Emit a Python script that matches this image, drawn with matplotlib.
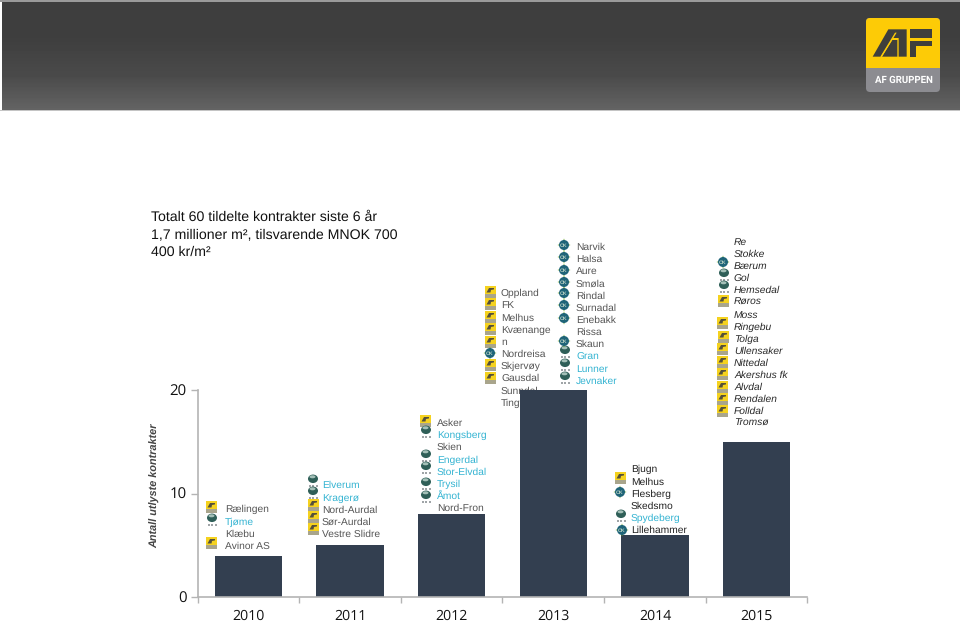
import numpy as np
import matplotlib
matplotlib.use("Agg")
import matplotlib.pyplot as plt
from matplotlib.patches import Circle, Ellipse, FancyBboxPatch, Polygon, Rectangle

plt.rcParams["font.family"] = ["Liberation Sans", "DejaVu Sans"]
plt.rcParams["text.hinting"] = "no_hinting"

years = ["2010", "2011", "2012", "2013", "2014", "2015"]
contracts = [4, 5, 8, 20, 6, 15]
y_ticks = [0, 10, 20]

title_lines = [
    "Totalt 60 tildelte kontrakter siste 6 år",
    "1,7 millioner m², tilsvarende MNOK 700",
    "400 kr/m²",
]
y_label = "Antall utlyste kontrakter"

names_2010 = ["Rælingen", "Tjøme", "Klæbu", "Avinor AS"]
names_2011 = ["Elverum", "Kragerø", "Nord-Aurdal", "Sør-Aurdal", "Vestre Slidre"]
names_2012 = ["Asker", "Kongsberg", "Skien", "Engerdal", "Stor-Elvdal", "Trysil", "Åmot", "Nord-Fron"]
names_2013a = ["Oppland", "FK", "Melhus", "Kvænange", "n", "Nordreisa", "Skjervøy", "Gausdal", "Sunndal", "Tingvoll"]
names_2013b = ["Narvik", "Halsa", "Aure", "Smøla", "Rindal", "Surnadal", "Enebakk", "Rissa", "Skaun", "Gran", "Lunner", "Jevnaker"]
names_2014 = ["Bjugn", "Melhus", "Flesberg", "Skedsmo", "Spydeberg", "Lillehammer"]
names_2015 = ["Re", "Stokke", "Bærum", "Gol", "Hemsedal", "Røros", "Moss", "Ringebu", "Tolga", "Ullensaker",
              "Nittedal", "Akershus fk", "Alvdal", "Rendalen", "Folldal", "Tromsø"]

blue_names = {"Tjøme", "Elverum", "Kragerø", "Kongsberg", "Engerdal", "Stor-Elvdal", "Trysil", "Åmot",
              "Gran", "Lunner", "Jevnaker", "Spydeberg"}

BAR = "#333f50"
BLUE = "#35b4d2"
AXIS = "#b4b4b4"
W, H = 960, 621

fig = plt.figure(figsize=(W / 100, H / 100), dpi=100, facecolor="white")


def px_axes(z):
    # full-figure axes in image pixels, y going down
    a = fig.add_axes([0, 0, 1, 1], zorder=z)
    a.set_xlim(0, W)
    a.set_ylim(H, 0)
    a.axis("off")
    return a


back = px_axes(0)
top = px_axes(2)

# banner
grad = np.r_[np.full(35, 0.245), np.linspace(0.245, 0.29, 38), np.linspace(0.29, 0.39, 35)].reshape(-1, 1)
back.imshow(grad, cmap="gray", vmin=0, vmax=1, extent=(2, W, 110, 2), aspect="auto", zorder=1)
back.set_xlim(0, W)
back.set_ylim(H, 0)
back.add_patch(Rectangle((0, 0), W, 2, color="#9a9a9a", lw=0, zorder=2))
back.add_patch(Rectangle((0, 110), W, 1.2, color="#c4c4c4", lw=0, zorder=2))

# AF logo
back.add_patch(FancyBboxPatch((866, 18), 74, 74, boxstyle="round,pad=0,rounding_size=4", fc="#8c8c91", ec="none", zorder=3))
yellow = FancyBboxPatch((866, 18), 74, 74, boxstyle="round,pad=0,rounding_size=4", fc="#fdcb06", ec="none", zorder=4)
back.add_patch(yellow)
yellow.set_clip_path(Rectangle((860, 10), 90, 58, transform=back.transData))


def logo_poly(pts, color):
    xy = [(860 + x / 3, 10 + y / 3) for x, y in pts]
    back.add_patch(Polygon(xy, closed=True, fc=color, ec="none", zorder=6))


logo_poly([(38, 140), (85, 58), (140, 58), (140, 140), (116, 140), (116, 84), (98, 84), (62, 140)], "#3f3f3c")
logo_poly([(66, 140), (97, 90), (112, 90), (112, 140)], "#3f3f3c")
logo_poly([(150, 58), (215, 58), (215, 84), (150, 84)], "#3f3f3c")
logo_poly([(150, 92), (215, 92), (215, 108), (168, 108), (168, 140), (150, 140)], "#3f3f3c")
logo_poly([(61, 140), (66, 140), (110, 68), (105, 68)], "#fdcb06")
back.text(903.5, 80, "AF GRUPPEN", color="white", fontsize=6.9, fontweight="bold", ha="center", va="center",
          family="Roboto", zorder=7)

# heading
for line, py in zip(title_lines, [220.5, 238, 255.5]):
    back.text(151, py, line, fontsize=10.2, color="#111111", va="baseline", ha="left")

back.text(155, 485.5, y_label, rotation=90, fontsize=7.8, fontweight="bold", fontstyle="italic",
          color="#444444", ha="center", va="center")


def draw_list(names, x, ys, color="#555555", italic=False):
    for name, py in zip(names, ys):
        c = BLUE if name in blue_names else color
        back.text(x, py + 3.8, name, fontsize=7.4, color=c, va="baseline", ha="left",
                  fontstyle="italic" if italic else "normal")


draw_list(names_2010, 225, [508, 521, 533, 545])
draw_list(names_2011, 322, [484.5, 497, 509, 521, 533])
draw_list(names_2012, 437, [422, 434.5, 446.5, 459, 471, 483, 495, 507])
draw_list(names_2013a, 501, [292, 304, 317, 329, 341, 353, 365, 377, 390, 402])
draw_list(names_2013b, 576, [246, 258, 270.5, 283, 295, 307, 319, 331, 343, 356, 368, 380])
draw_list(names_2014, 631, [468.5, 481, 493, 505, 517, 529.5], color="#222222")
draw_list(names_2015, 734, [241, 253, 265, 277, 289, 301, 314, 326, 338, 350, 362, 374, 386, 398, 410, 422],
          color="#2a2a2a", italic=True)


def icon_af(x, y):
    top.add_patch(Rectangle((x - 5.5, y - 6), 11, 8, fc="#f5d21f", ec="none"))
    top.add_patch(Rectangle((x - 5.5, y + 2), 11, 4, fc="#a9a58c", ec="none"))
    top.add_patch(Polygon([(x - 3.5, y + 0.5), (x - 1, y - 4), (x + 4, y - 4), (x + 4, y - 2.6), (x + 1, y - 2),
                           (x + 0.5, y + 0.5), (x - 1.5, y + 0.5)], fc="#55503a", ec="none"))


def icon_nsk(x, y):
    top.add_patch(Ellipse((x, y - 2.2), 10, 8.5, fc="#2f5f58", ec="none"))
    top.add_patch(Ellipse((x - 0.5, y - 4.2), 6, 3, fc="#a4c0b8", ec="none"))
    for dx in (-3.5, 0, 3.5):
        top.add_patch(Rectangle((x + dx - 1, y + 3.6), 2, 2, fc="#a0a5a8", ec="none"))


def icon_ck(x, y):
    top.add_patch(Polygon([(x, y - 6.5), (x + 2.5, y), (x, y + 6.5), (x - 2.5, y)], fc="#6aa52f", ec="none"))
    top.add_patch(Polygon([(x - 6.5, y), (x, y - 2.5), (x + 6.5, y), (x, y + 2.5)], fc="#6aa52f", ec="none"))
    top.add_patch(Circle((x, y), 5, fc="#1f6478", ec="none"))
    top.text(x, y + 0.2, "CK", fontsize=3.8, fontweight="bold", color="#b9d2c4", ha="center", va="center")


# logos beside the names
af_marks = [(211, 507), (211, 543), (313, 505), (313, 517), (313, 529), (425, 421),
            (490, 292), (490, 304), (490, 317), (490, 329), (490, 342), (490, 365), (490, 378),
            (620, 478), (723, 301), (722, 323), (723, 337), (722, 349), (722, 362), (722, 374),
            (722, 387), (722, 399), (722, 411)]
nsk_marks = [(212, 520), (313, 481), (313, 493), (426, 432), (426, 456), (426, 468), (426, 484), (426, 497),
             (565, 352), (565, 365), (565, 378), (621, 516), (724, 275), (724, 287)]
ck_marks = [(490, 353), (564, 245), (564, 257), (564, 270), (564, 282), (564, 293), (564, 305), (564, 318),
            (564, 341), (620, 492), (622, 530), (723, 262)]
for mx, my in af_marks:
    icon_af(mx, my)
for mx, my in nsk_marks:
    icon_nsk(mx, my)
for mx, my in ck_marks:
    icon_ck(mx, my)

# chart
ax = fig.add_axes([197.5 / W, (H - 597) / H, 610 / W, 207 / H], zorder=1)
ax.patch.set_alpha(0)
ax.bar(range(len(years)), contracts, width=0.66, color=BAR)
ax.set_xlim(-0.5, len(years) - 0.5)
ax.set_ylim(0, 20)
ax.set_yticks(y_ticks)
ax.set_yticklabels([str(t) for t in y_ticks], fontsize=10.8, family="Open Sans", color="#111111")
ax.set_xticks(np.arange(len(years) + 1) - 0.5, minor=False)
ax.set_xticklabels([""] * (len(years) + 1))
ax.tick_params(axis="x", length=4, color=AXIS, width=1)
ax.tick_params(axis="y", length=5, color=AXIS, width=1, pad=3)
for i, yr in enumerate(years):
    ax.annotate(yr, (i, 0), xytext=(0, -13.5), xycoords=("data", "data"), textcoords="offset points",
                ha="center", va="center", fontsize=10.2, family="Open Sans", color="#111111", annotation_clip=False)
for side in ["top", "right"]:
    ax.spines[side].set_visible(False)
for side in ["left", "bottom"]:
    ax.spines[side].set_color(AXIS)
    ax.spines[side].set_linewidth(1.2)

fig.savefig("out.png", dpi=100)
